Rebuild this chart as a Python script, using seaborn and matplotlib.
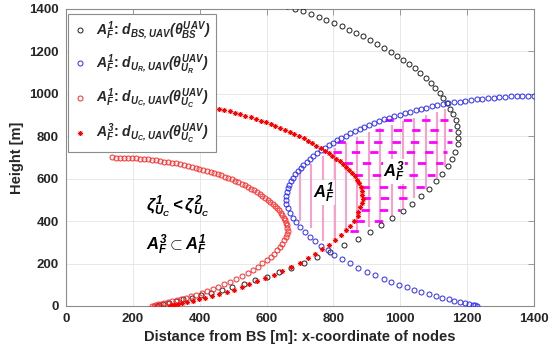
import numpy as np
import matplotlib
matplotlib.use("Agg")
import matplotlib.pyplot as plt
import seaborn as sns

# ---------------- data ----------------
# elevation-angle grid of the sampled UAV positions [deg]
theta_deg = np.arange(0, 91)

# node positions on the x axis [m]
node_bs = 0
node_ur = 1400
node_uc = 137

# coverage distance d(theta) [m] for each curve
d_bs = [271, 279, 291, 308, 329, 352, 379, 407, 438, 471,
        505, 541, 579, 618, 657, 698, 740, 784, 829, 880,
        928, 973, 1017, 1060, 1102, 1142, 1182, 1218, 1254, 1286,
        1318, 1346, 1373, 1398, 1416, 1432, 1446, 1459, 1470, 1479,
        1488, 1496, 1504, 1510, 1516, 1521, 1526, 1531, 1534, 1537,
        1540, 1543, 1546, 1548, 1549, 1551, 1552, 1554, 1556, 1557,
        1557, 1559, 1559, 1560, 1560, 1562, 1562, 1562, 1562, 1562,
        1562, 1563, 1563, 1563, 1563, 1563, 1563, 1563, 1563, 1563,
        1563, 1565, 1565, 1565, 1565, 1565, 1565, 1565, 1565, 1565, 1565]

d_ur = [171, 176, 184, 195, 208, 223, 240, 257, 277, 298,
        320, 343, 366, 391, 416, 442, 468, 496, 525, 556,
        587, 616, 644, 670, 697, 723, 747, 770, 793, 814,
        834, 851, 868, 884, 896, 906, 915, 923, 930, 936,
        941, 946, 951, 955, 959, 962, 965, 968, 970, 972,
        974, 976, 978, 979, 980, 981, 982, 983, 984, 985,
        985, 986, 986, 987, 987, 988, 988, 988, 988, 988,
        988, 989, 989, 989, 989, 989, 989, 989, 989, 989,
        989, 990, 990, 990, 990, 990, 990, 990, 990, 990, 990]

d_uc1 = [121, 125, 130, 138, 147, 158, 169, 182, 196, 211,
         226, 242, 259, 277, 294, 312, 331, 351, 371, 393,
         415, 435, 455, 474, 493, 511, 529, 545, 561, 575,
         589, 602, 614, 625, 634, 641, 647, 652, 657, 662,
         666, 669, 673, 676, 678, 680, 683, 685, 686, 687,
         689, 690, 692, 692, 693, 694, 694, 695, 696, 697,
         697, 697, 697, 698, 698, 699, 699, 699, 699, 699,
         699, 699, 699, 699, 699, 699, 699, 699, 699, 699,
         699, 700, 700, 700, 700, 700, 700, 700, 700, 700, 700]

d_uc3 = [174, 180, 188, 199, 212, 227, 245, 262, 283, 304,
         326, 350, 373, 399, 424, 451, 477, 506, 536, 567,
         599, 628, 657, 683, 711, 737, 762, 785, 808, 829,
         849, 860, 877, 893, 905, 915, 924, 932, 939, 945,
         950, 953, 956, 959, 962, 964, 966, 968, 970, 971,
         972, 973, 974, 975, 976, 977, 977, 978, 978, 979,
         979, 980, 980, 981, 981, 982, 982, 982, 983, 983,
         983, 984, 984, 984, 984, 984, 984, 984, 984, 984,
         984, 985, 985, 985, 985, 985, 985, 985, 985, 985, 985]

# hatching of region A_F^1 (vertical lines) and A_F^3 (horizontal dashes)
vl_x = [700, 734, 769, 805, 838, 871, 905, 939, 974, 1009, 1042, 1076, 1109, 1134]
vl_top = [640, 668, 705, 745, 770, 798, 820, 838, 855, 870, 885, 900, 915, 928]
vl_bot = [400, 368, 305, 305, 343, 355, 372, 392, 425, 462, 510, 550, 605, 655]
hl_y = [877, 830, 775, 724, 672, 618, 562, 508, 453, 401, 354]
hl_left = [955, 925, 812, 800, 832, 862, 882, 884, 882, 868, 849]
hl_right = [1143, 1154, 1154, 1140, 1128, 1104, 1074, 1032, 1000, 954, 880]

x_ticks = [0, 200, 400, 600, 800, 1000, 1200, 1400]
y_ticks = [0, 200, 400, 600, 800, 1000, 1200, 1400]

labels = [r"$A_{F}^{1}$: $d_{BS,UAV}(\theta_{BS}^{UAV})$",
          r"$A_{F}^{1}$: $d_{U_R,UAV}(\theta_{U_R}^{UAV})$",
          r"$A_{F}^{1}$: $d_{U_C,UAV}(\theta_{U_C}^{UAV})$",
          r"$A_{F}^{3}$: $d_{U_C,UAV}(\theta_{U_C}^{UAV})$"]

# ---------------- style ----------------
sns.set_style("white")
plt.rcParams["font.family"] = ["Liberation Sans", "DejaVu Sans"]
plt.rcParams["font.weight"] = "bold"
plt.rcParams["mathtext.fontset"] = "custom"
plt.rcParams["mathtext.it"] = "Liberation Sans:italic:bold"
plt.rcParams["mathtext.rm"] = "Liberation Sans:italic:bold"
plt.rcParams["mathtext.bf"] = "Liberation Sans:italic:bold"
plt.rcParams["lines.scale_dashes"] = False
plt.rcParams["legend.numpoints"] = 1

fig = plt.figure(figsize=(5.53, 3.57), dpi=100)
ax = fig.add_axes([66 / 553, 1 - 306 / 357, 468 / 553, 297 / 357])

th = np.deg2rad(theta_deg)


def polar_xy(node, sign, d):
    d = np.asarray(d, dtype=float)
    return node + sign * d * np.cos(th), d * np.sin(th)


# hatching
ax.vlines(vl_x, vl_bot, vl_top, colors="#ff8fc8", lw=1.25, zorder=1.5)
ax.hlines(hl_y, hl_left, hl_right, colors="#ff00ff", lw=2.0,
          linestyles=[(0, (6.0, 7.2))], zorder=1.6)

curves = [
    (node_bs, 1, d_bs, "#202020", "o"),
    (node_ur, -1, d_ur, "#2a2aff", "o"),
    (node_uc, 1, d_uc1, "#ff2a2a", "o"),
    (node_uc, 1, d_uc3, "#ff0000", (8, 2, 0)),
]
for (node, sgn, d, col, mk), lab in zip(curves, labels):
    x, y = polar_xy(node, sgn, d)
    if mk == "o":
        sns.lineplot(x=x, y=y, sort=False, estimator=None, ax=ax,
                     color=col, marker="o", linestyle="none",
                     mfc="none", mec=col, mew=0.7, ms=3.6,
                     label=lab, zorder=3)
    else:
        sns.lineplot(x=x, y=y, sort=False, estimator=None, ax=ax,
                     color=col, marker=mk, linestyle="none",
                     mec=col, mew=0.6, ms=3.6,
                     label=lab, zorder=3)

# annotations
ax.text(772, 533, r"$A_{F}^{1}$", ha="center", va="center", fontsize=12,
        color="black", zorder=4,
        bbox=dict(fc="white", ec="none", pad=0.3))
ax.text(981, 632, r"$A_{F}^{3}$", ha="center", va="center", fontsize=12,
        color="black", zorder=4,
        bbox=dict(fc="white", ec="none", pad=0.3))
ax.text(335, 465, r"$\zeta_{U_C}^{1} < \zeta_{U_C}^{2}$", ha="center",
        va="center", fontsize=12, color="black", zorder=4)
ax.text(331, 288, r"$A_{F}^{3} \subset A_{F}^{1}$", ha="center",
        va="center", fontsize=12, color="black", zorder=4)

# axes
ax.set_xlim(0, 1400)
ax.set_ylim(0, 1400)
ax.set_xticks(x_ticks)
ax.set_yticks(y_ticks)
ax.grid(True, color="#e4e4e4", lw=0.6)
ax.set_axisbelow(True)
for s in ax.spines.values():
    s.set_color("#8c8c8c")
    s.set_linewidth(0.8)
ax.tick_params(direction="in", length=4, width=0.6, color="#8c8c8c",
               top=True, right=True, labelsize=9.5, labelcolor="#262626",
               pad=5)
ax.set_xlabel("Distance from BS [m]: x-coordinate of nodes", fontsize=10.5,
              fontweight="bold", color="#262626", labelpad=4)
ax.set_ylabel("Height [m]", fontsize=10.5, fontweight="bold",
              color="#262626", labelpad=4)

leg = ax.legend(loc="upper left", bbox_to_anchor=(0.004, 0.983),
                borderaxespad=0, fontsize=10.1, frameon=True, fancybox=False,
                edgecolor="#8c8c8c", handlelength=1.0, handletextpad=0.6,
                labelspacing=0.75, borderpad=0.4)
leg.get_frame().set_linewidth(0.8)
leg.get_frame().set_alpha(1)
leg.set_zorder(10)

fig.savefig("out.png", dpi=100)
